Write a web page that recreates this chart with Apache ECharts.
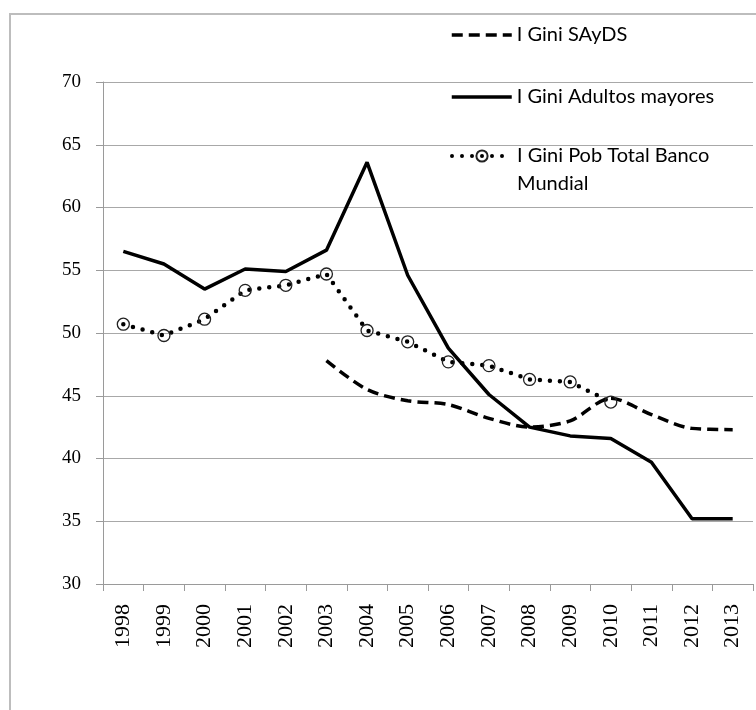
<!DOCTYPE html>
<html>
<head>
<meta charset="utf-8">
<script src="https://cdn.jsdelivr.net/npm/echarts@6/dist/echarts.min.js"></script>
<style>
  html, body { margin: 0; padding: 0; background: #fff; }
  #chart { width: 756px; height: 710px; }
</style>
</head>
<body>
<div id="chart"></div>
<script>
// datos
const years = ['1998', '1999', '2000', '2001', '2002', '2003', '2004', '2005',
  '2006', '2007', '2008', '2009', '2010', '2011', '2012', '2013'];
const giniSAyDS = [null, null, null, null, null, 47.8, 45.5, 44.6, 44.3, 43.2, 42.5, 43.0, 44.8, 43.5, 42.4, 42.3];
const giniAdultos = [56.5, 55.5, 53.5, 55.1, 54.9, 56.6, 63.6, 54.6, 48.8, 45.1, 42.5, 41.8, 41.6, 39.7, 35.2, 35.2];
const giniBanco = [50.7, 49.8, 51.1, 53.4, 53.8, 54.7, 50.2, 49.3, 47.7, 47.4, 46.3, 46.1, 44.5, null, null, null];
const yTicks = [30, 35, 40, 45, 50, 55, 60, 65, 70];

const names = ['I Gini SAyDS', 'I Gini Adultos mayores', 'I Gini Pob Total Banco Mundial'];

const chart = echarts.init(document.getElementById('chart'));

const legendBase = {
  orient: 'vertical',
  left: 445,
  itemWidth: 60,
  itemHeight: 14,
  itemGap: 8,
  textStyle: { fontFamily: 'Lato', fontSize: 20, color: '#000', lineHeight: 28 },
  inactiveColor: '#000'
};

const option = {
  backgroundColor: '#fff',
  animation: false,
  graphic: [{
    type: 'rect',
    shape: { x: 10, y: 14, width: 800, height: 800 },
    style: { fill: 'none', stroke: '#bdbdbd', lineWidth: 2 },
    silent: true
  }],
  legend: [
    // las dos primeras sin marcador, solo la linea
    Object.assign({}, legendBase, {
      top: 16, data: [names[0]],
      itemStyle: { opacity: 0 },
      lineStyle: { width: 3.5 }
    }),
    Object.assign({}, legendBase, {
      top: 78, data: [names[1]],
      itemStyle: { opacity: 0 },
      lineStyle: { width: 3.5 }
    }),
    Object.assign({}, legendBase, {
      top: 109,
      data: [names[2]],
      lineStyle: { width: 4 },
      formatter: () => '\nI Gini Pob Total Banco\nMundial'
    })
  ],
  grid: { left: 103, right: 3, top: 82, bottom: 126 },
  xAxis: {
    type: 'category',
    data: years,
    boundaryGap: true,
    axisLine: { lineStyle: { color: '#9a9a9a', width: 1 } },
    axisTick: { show: true, length: 7, lineStyle: { color: '#9a9a9a' } },
    axisLabel: {
      rotate: 90,
      margin: 20,
      fontFamily: 'Liberation Serif',
      fontSize: 22,
      color: '#000'
    },
    splitLine: { show: false }
  },
  yAxis: {
    type: 'value',
    min: yTicks[0],
    max: yTicks[yTicks.length - 1],
    interval: 5,
    axisLine: { show: true, lineStyle: { color: '#9a9a9a', width: 1 } },
    axisTick: { show: true, length: 7, lineStyle: { color: '#9a9a9a' } },
    axisLabel: {
      margin: 22,
      fontFamily: 'Liberation Serif',
      fontSize: 19,
      color: '#000'
    },
    splitLine: { show: true, lineStyle: { color: '#a8a8a8', width: 1 } }
  },
  series: [
    {
      name: names[0],
      type: 'line',
      data: giniSAyDS,
      symbol: 'none',
      smooth: 0.3,
      connectNulls: false,
      lineStyle: { color: '#000', width: 3.5, type: [11, 6] },
      itemStyle: { color: '#000' }
    },
    {
      name: names[1],
      type: 'line',
      data: giniAdultos,
      symbol: 'none',
      lineStyle: { color: '#000', width: 3.5, type: 'solid' },
      itemStyle: { color: '#000' }
    },
    {
      name: names[2],
      type: 'line',
      data: giniBanco,
      symbol: 'circle',
      symbolSize: 12,
      lineStyle: { color: '#000', width: 4.5, type: [0, 10], cap: 'round' },
      itemStyle: { color: 'rgba(255,255,255,0)', borderColor: '#222', borderWidth: 1.3 }
    }
  ]
};

chart.setOption(option);
</script>
</body>
</html>
